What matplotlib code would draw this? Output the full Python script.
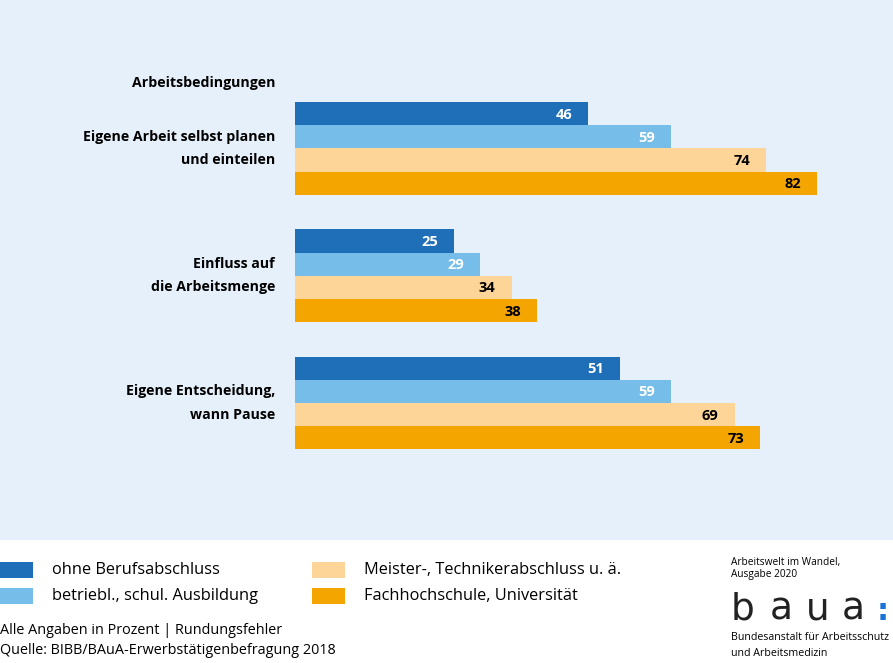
import matplotlib.pyplot as plt
from matplotlib.patches import Rectangle

# Daten
categories = ["Eigene Arbeit selbst planen\nund einteilen",
              "Einfluss auf\ndie Arbeitsmenge",
              "Eigene Entscheidung,\nwann Pause"]
series_names = ["ohne Berufsabschluss",
                "betriebl., schul. Ausbildung",
                "Meister-, Technikerabschluss u. ä.",
                "Fachhochschule, Universität"]
ohne = [46, 25, 51]
betriebl = [59, 29, 59]
meister = [74, 34, 69]
fh = [82, 38, 73]
values = [ohne, betriebl, meister, fh]

colors = ["#1f6fb8", "#76bde9", "#fdd598", "#f5a500"]
text_colors = ["white", "white", "black", "black"]
bg = "#e6f0fa"

W, H = 893, 663
fig = plt.figure(figsize=(W / 100, H / 100), dpi=100)
fig.patch.set_facecolor("white")
fig.patches.append(Rectangle((0, (H - 540) / H), 1, 540 / H,
                             transform=fig.transFigure, facecolor=bg,
                             edgecolor="none", zorder=-1))

# Achse in Pixeln vertikal, Prozent horizontal
px_per_unit = 6.37
ax = fig.add_axes([295 / W, (H - 540) / H, (W - 295) / W, 540 / H])
ax.set_facecolor("none")
ax.set_xlim(0, (W - 295) / px_per_unit)
ax.set_ylim(540, 0)
ax.axis("off")

font = "Open Sans"
top0, bar_h, group_step = 102, 23.2, 127.3
for i, cat in enumerate(categories):
    for j in range(4):
        y = top0 + i * group_step + j * bar_h + bar_h / 2
        v = values[j][i]
        ax.barh(y, v, height=bar_h, color=colors[j], edgecolor="none")
        ax.text(v - 16 / px_per_unit, y + 1, str(v), ha="right", va="center",
                color=text_colors[j], fontsize=10.5, fontweight="bold",
                family=font)
    yc = top0 + i * group_step + 2 * bar_h
    ax.text(-20 / px_per_unit, yc, cat, ha="right", va="center",
            fontsize=10.2, fontweight="bold", family=font,
            linespacing=1.85, clip_on=False)

ax.text(-20 / px_per_unit, 83, "Arbeitsbedingungen", ha="right",
        va="center", fontsize=10.2, fontweight="bold", family=font,
        clip_on=False)

# Legende
leg_pos = [(0, 570), (0, 596), (312, 570), (312, 596)]
for (lx, ly), c, name in zip(leg_pos, colors, series_names):
    fig.patches.append(Rectangle((lx / W, (H - ly - 8) / H), 33 / W, 16 / H,
                                 transform=fig.transFigure, facecolor=c,
                                 edgecolor="none"))
    fig.text((lx + 52) / W, (H - ly) / H, name, ha="left", va="center",
             fontsize=11.8, family=font)

fig.text(0, (H - 630) / H, "Alle Angaben in Prozent | Rundungsfehler",
         ha="left", va="center", fontsize=10.4, family=font)
fig.text(0, (H - 651) / H, "Quelle: BIBB/BAuA-Erwerbstätigenbefragung 2018",
         ha="left", va="center", fontsize=10.4, family=font)

# Logo-Bereich
fig.text(731 / W, (H - 563) / H, "Arbeitswelt im Wandel,", ha="left",
         va="center", fontsize=7.3, family=font)
fig.text(731 / W, (H - 575) / H, "Ausgabe 2020", ha="left",
         va="center", fontsize=7.3, family=font)
for lx, ch in zip([731, 770, 806, 842], "baua"):
    fig.text(lx / W, (H - 610) / H, ch, ha="left", va="center",
             fontsize=27, color="#222222", family="DejaVu Sans")
fig.text(877 / W, (H - 611) / H, ":", ha="left", va="center",
         fontsize=22, color="#1a73d9", fontweight="bold", family="DejaVu Sans")
fig.text(731 / W, (H - 637) / H, "Bundesanstalt für Arbeitsschutz",
         ha="left", va="center", fontsize=7.7, family=font)
fig.text(731 / W, (H - 653) / H, "und Arbeitsmedizin",
         ha="left", va="center", fontsize=7.7, family=font)

fig.savefig("out.png", dpi=100, facecolor=fig.get_facecolor())
